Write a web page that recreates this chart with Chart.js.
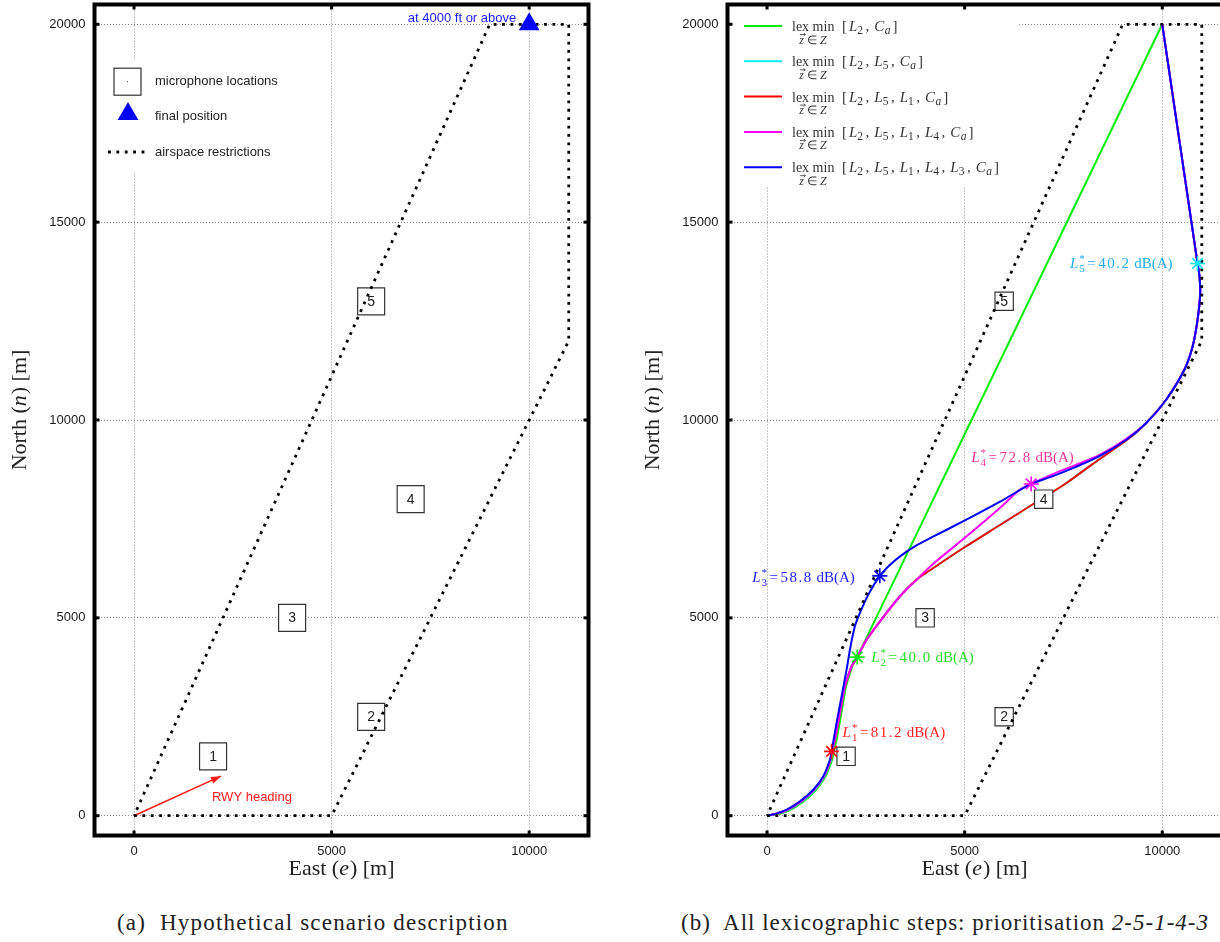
<!DOCTYPE html>
<html>
<head>
<meta charset="utf-8">
<title>Scenario and lexicographic steps</title>
<script src="https://cdn.jsdelivr.net/npm/chart.js@4.4.1/dist/chart.umd.min.js"></script>
<style>
  html, body { margin: 0; padding: 0; background: #fff; overflow: hidden; }
  body { position: relative; width: 1220px; height: 942px; }
  canvas { position: absolute; top: 0; }
  #chartA { left: 0; }
  #chartB { left: 633px; }
  .cap { position: absolute; top: 909px; line-height: 28px; font-family: "Liberation Serif", serif; font-size: 23px; color: #222; white-space: nowrap; }
  .cap i { font-style: italic; }
</style>
</head>
<body>
<canvas id="chartA" width="610" height="900"></canvas>
<canvas id="chartB" width="614" height="900"></canvas>
<div class="cap" style="left:117px; letter-spacing:1.2px">(a)&nbsp; Hypothetical scenario description</div>
<div class="cap" style="left:681px; letter-spacing:1px">(b)&nbsp; All lexicographic steps: prioritisation <i>2-5-1-4-3</i></div>
<script>
const SERIF = '"Liberation Serif", "Times New Roman", serif';
const SANS = '"Liberation Sans", Arial, sans-serif';

// axes, metres
const xTicks = [0, 5000, 10000];
const yTicks = [0, 5000, 10000, 15000, 20000];

// airspace restriction polygon
const airE = [0, 5000, 11000, 11000, 9000, 0];
const airN = [0, 0, 12000, 20000, 20000, 0];

// microphone locations
const micE = [2000, 6000, 4000, 7000, 6000];
const micN = [1500, 2500, 5000, 8000, 13000];
const micNames = ["1", "2", "3", "4", "5"];

// panel (a): final position + runway heading
const finalE = [10000];
const finalN = [20000];
const rwyE = [0, 2200];
const rwyN = [0, 1000];
const legendA = ["microphone locations", "final position", "airspace restrictions"];

// panel (b): trajectories of the lexicographic steps
const greenE = [0, 280, 540, 890, 1230, 1470, 1640, 1690, 1760, 1880, 2000, 2150, 2281, 10000];
const greenN = [0, 45, 125, 335, 640, 985, 1400, 1626, 1919, 2593, 3266, 3760, 4008, 20000];

const cyanE = [0, 270, 520, 870, 1210, 1450, 1615, 1650, 1717, 1843, 1970, 2138, 2281, 2517, 2854, 3359, 3779, 4200, 4958, 5884, 6768, 7568, 8200, 8800, 9300, 9588, 10093, 10556, 10766, 10892, 10960, 10940, 10892, 10000];
const cyanN = [0, 50, 135, 345, 645, 990, 1410, 1626, 1919, 2593, 3266, 3771, 4008, 4444, 4907, 5539, 5960, 6254, 6759, 7340, 7896, 8401, 8860, 9280, 9650, 9916, 10505, 11263, 11852, 12525, 13200, 13650, 13956, 20000];

const redE = [0, 260, 500, 850, 1190, 1435, 1605, 1633, 1717, 1843, 1970, 2138, 2281, 2517, 2854, 3359, 3779, 4200, 4958, 5884, 6768, 7568, 8200, 8800, 9300, 9588, 10093, 10556, 10766, 10892, 10960, 10940, 10892, 10000];
const redN = [0, 55, 140, 355, 655, 995, 1415, 1626, 1919, 2593, 3266, 3771, 4008, 4444, 4907, 5539, 5960, 6254, 6759, 7340, 7896, 8401, 8860, 9280, 9650, 9916, 10505, 11263, 11852, 12525, 13200, 13650, 13956, 20000];

const magentaE = [0, 260, 500, 850, 1190, 1435, 1605, 1633, 1717, 1843, 1970, 2138, 2281, 2517, 2854, 3359, 3779, 4200, 5042, 5884, 6389, 6684, 7200, 7800, 8400, 9083, 9588, 10093, 10556, 10766, 10892, 10960, 10940, 10892, 10000];
const magentaN = [0, 55, 140, 355, 655, 995, 1415, 1626, 1919, 2593, 3266, 3771, 4008, 4444, 4907, 5539, 5960, 6360, 7054, 7770, 8232, 8384, 8620, 8860, 9110, 9520, 9916, 10505, 11263, 11852, 12525, 13200, 13650, 13956, 20000];

const blueE = [0, 250, 497, 833, 1170, 1422, 1591, 1633, 1759, 1886, 2012, 2113, 2222, 2348, 2559, 2854, 3100, 3400, 3750, 4200, 5042, 5884, 6684, 7200, 7800, 8400, 9083, 9588, 10093, 10556, 10766, 10892, 10960, 10940, 10892, 10000];
const blueN = [0, 60, 152, 362, 657, 993, 1414, 1626, 2340, 3013, 3687, 4276, 4781, 5118, 5581, 6061, 6330, 6580, 6810, 7050, 7480, 7930, 8384, 8570, 8810, 9080, 9495, 9916, 10505, 11263, 11852, 12525, 13200, 13650, 13956, 20000];

// optimum noise level per microphone
const starE = [1633, 2281, 2854, 6684, 10892];
const starN = [1626, 4008, 6061, 8384, 13956];
const starMic = ["1", "2", "3", "4", "5"];
const starDb = ["81.2", "40.0", "58.8", "72.8", "40.2"];

// priority lists of each step
const steps = [["2"], ["2", "5"], ["2", "5", "1"], ["2", "5", "1", "4"], ["2", "5", "1", "4", "3"]];
const stepColors = ["#00ee00", "#00eeee", "#ff0000", "#ff00ff", "#0000ff"];

function pts(es, ns) { return es.map((e, i) => ({ x: e, y: ns[i] })); }

function track(es, ns, color, order) {
  return { data: pts(es, ns), showLine: true, borderColor: color, backgroundColor: color,
    borderWidth: 2, pointRadius: 0, tension: 0.3, order: order };
}
function airspace(order) {
  return { data: pts(airE, airN), showLine: true, borderColor: "#000", borderWidth: 2.8,
    borderDash: [2.8, 5.6], pointRadius: 0, tension: 0, order: order };
}
function mics(side, order) {
  return { data: pts(micE, micN), showLine: false, pointStyle: "rect", pointRadius: side / Math.SQRT2,
    backgroundColor: "#fff", borderColor: "#333", borderWidth: 1.2, order: order };
}

function drawRich(ctx, x, y, parts, align) {
  let w = 0;
  const ws = parts.map(p => {
    ctx.font = p.f;
    const pw = ctx.measureText(p.t).width + (p.g || 0);
    if (!p.stay) w += pw;
    return pw;
  });
  let cx = align === "center" ? x - w / 2 : align === "right" ? x - w : x;
  const x0 = cx;
  ctx.textAlign = "left";
  ctx.textBaseline = "alphabetic";
  parts.forEach((p, i) => {
    ctx.font = p.f;
    ctx.fillText(p.t, cx, y + (p.dy || 0));
    if (!p.stay) cx += ws[i];
  });
  return x0;
}

function scales(xMax) {
  const tickFont = { family: SANS, size: 13 };
  return {
    x: { type: "linear", min: -1000, max: xMax,
      grid: { color: "#8c8c8c", lineWidth: 1, drawTicks: false },
      border: { display: false, dash: [1, 2] },
      afterBuildTicks: s => { s.ticks = xTicks.map(v => ({ value: v })); },
      afterFit: s => { s.height = 40; s.paddingLeft = 0; s.paddingRight = 0; },
      ticks: { padding: 8, font: tickFont, color: "#1a1a1a", autoSkip: false, maxRotation: 0, callback: v => String(v) } },
    y: { type: "linear", min: -500, max: 20500,
      grid: { color: "#8c8c8c", lineWidth: 1, drawTicks: false },
      border: { display: false, dash: [1, 2] },
      afterBuildTicks: s => { s.ticks = yTicks.map(v => ({ value: v })); },
      afterFit: s => { s.width = 94.5; s.paddingTop = 0; s.paddingBottom = 0; },
      ticks: { padding: 9, font: tickFont, color: "#1a1a1a", autoSkip: false, callback: v => String(v) } }
  };
}

function baseOptions(xMax) {
  return {
    responsive: false, animation: false, devicePixelRatio: 1, events: [],
    layout: { autoPadding: false, padding: { left: 0, top: 4.5, right: 21.5, bottom: 24.5 } },
    plugins: { legend: { display: false }, tooltip: { enabled: false } },
    scales: scales(xMax)
  };
}

// thick frame, small tick nubs, axis titles
const framePlugin = {
  id: "frame",
  afterDraw(chart) {
    const ctx = chart.ctx, a = chart.chartArea;
    const sx = chart.scales.x, sy = chart.scales.y;
    ctx.save();
    ctx.fillStyle = "#000";
    sx.ticks.forEach(t => {
      const p = sx.getPixelForValue(t.value);
      ctx.fillRect(p - 1.5, a.top, 3, 5);
      ctx.fillRect(p - 1.5, a.bottom - 5, 3, 5);
    });
    sy.ticks.forEach(t => {
      const p = sy.getPixelForValue(t.value);
      ctx.fillRect(a.left, p - 1.5, 5, 3);
      ctx.fillRect(a.right - 5, p - 1.5, 5, 3);
    });
    ctx.lineWidth = 4;
    ctx.strokeStyle = "#000";
    ctx.strokeRect(a.left, a.top, a.right - a.left, a.bottom - a.top);

    ctx.fillStyle = "#222";
    const f = "22px " + SERIF, fi = "italic 22px " + SERIF;
    const cx = sx.getPixelForValue(5250);
    drawRich(ctx, cx, 875, [{ t: "East (", f: f }, { t: "e", f: fi, g: 1 }, { t: ") [m]", f: f }], "center");
    ctx.translate(19, 410);
    ctx.rotate(-Math.PI / 2);
    drawRich(ctx, 0, 7, [{ t: "North (", f: f }, { t: "n", f: fi, g: 1 }, { t: ") [m]", f: f }], "center");
    ctx.restore();
  }
};

function boxNumbers(chart, idx) {
  const ctx = chart.ctx;
  ctx.fillStyle = "#222";
  ctx.font = "14px " + SANS;
  ctx.textAlign = "center";
  ctx.textBaseline = "middle";
  chart.getDatasetMeta(idx).data.forEach((p, i) => ctx.fillText(micNames[i], p.x, p.y + 0.5));
}

function tri(ctx, x, y, r) {
  ctx.beginPath();
  for (let k = 0; k < 3; k++) {
    const ang = -Math.PI / 2 + k * 2 * Math.PI / 3;
    const px = x + r * Math.cos(ang), py = y + r * Math.sin(ang);
    if (k === 0) ctx.moveTo(px, py); else ctx.lineTo(px, py);
  }
  ctx.closePath();
  ctx.fill();
}

const panelA = {
  id: "panelA",
  afterDatasetsDraw(chart) {
    const ctx = chart.ctx, a = chart.chartArea;
    ctx.save();
    boxNumbers(chart, 2);

    // runway heading arrow head
    const m = chart.getDatasetMeta(3);
    const p0 = m.data[0], p1 = m.data[1];
    const ang = Math.atan2(p1.y - p0.y, p1.x - p0.x);
    const c = Math.cos(ang), s = Math.sin(ang);
    ctx.fillStyle = "#ff1a1a";
    ctx.beginPath();
    ctx.moveTo(p1.x, p1.y);
    ctx.lineTo(p1.x - 10 * c + 3.5 * s, p1.y - 10 * s - 3.5 * c);
    ctx.lineTo(p1.x - 10 * c - 3.5 * s, p1.y - 10 * s + 3.5 * c);
    ctx.closePath();
    ctx.fill();
    ctx.font = "13px " + SANS;
    ctx.textAlign = "left";
    ctx.textBaseline = "middle";
    ctx.fillText("RWY heading", p1.x - 9, p1.y + 21);

    const fp = chart.getDatasetMeta(0).data[0];
    ctx.fillStyle = "#1a1aff";
    ctx.textAlign = "right";
    ctx.fillText("at 4000 ft or above", fp.x - 13, fp.y - 6);

    // legend
    const L = a.left, T = a.top;
    ctx.fillStyle = "#fff";
    ctx.fillRect(L + 5, T + 55, 190, 113);
    ctx.strokeStyle = "#333";
    ctx.lineWidth = 1.2;
    ctx.strokeRect(L + 19.5, T + 63.7, 27, 27);
    ctx.fillStyle = "#333";
    ctx.fillRect(L + 32.5, T + 76.7, 1, 1);
    ctx.fillStyle = "#0000ff";
    tri(ctx, L + 33.5, T + 109.5, 12);
    ctx.strokeStyle = "#000";
    ctx.lineWidth = 2.8;
    ctx.setLineDash([2.8, 5.6]);
    ctx.beginPath();
    ctx.moveTo(L + 13.5, T + 147.5);
    ctx.lineTo(L + 51, T + 147.5);
    ctx.stroke();
    ctx.setLineDash([]);
    ctx.fillStyle = "#222";
    ctx.font = "13px " + SANS;
    ctx.textAlign = "left";
    ctx.textBaseline = "middle";
    [76.5, 111.5, 147.5].forEach((dy, i) => ctx.fillText(legendA[i], L + 60.5, T + dy));
    ctx.restore();
  }
};

const labelColors = ["#ff2020", "#22dd22", "#2020ff", "#e8369c", "#1fadea"];
const labelOffsets = [[11, -19, "left"], [14, 0, "left"], [-25, 1, "right"], [-60, -27, "left"], [-25, 0, "right"]];

const panelB = {
  id: "panelB",
  afterDatasetsDraw(chart) {
    const ctx = chart.ctx, a = chart.chartArea;
    ctx.save();
    boxNumbers(chart, 2);

    // L_k^* labels next to the optima
    const fi = "italic 15px " + SERIF, fn = "15px " + SERIF, fs = "11px " + SERIF;
    chart.getDatasetMeta(0).data.forEach((p, i) => {
      const o = labelOffsets[i];
      const parts = [{ t: "L", f: fi, g: 1 }, { t: "*", f: fs, dy: -6, stay: true }, { t: starMic[i], f: fs, dy: 4, g: 2.5 }, { t: "=", f: fn, g: 2.5 }];
      starDb[i].split("").forEach(ch => parts.push({ t: ch, f: fn, g: 1.5 }));
      parts.push({ t: " dB(A)", f: fn });
      ctx.fillStyle = labelColors[i];
      drawRich(ctx, p.x + o[0], p.y + o[1] + 5, parts, o[2]);
    });

    // legend
    const L = a.left, T = a.top;
    ctx.fillStyle = "#fff";
    ctx.fillRect(L + 4, T + 3, 287, 178);
    const fm = "15px " + SERIF, fmi = "italic 15px " + SERIF, fsub = "11.5px " + SERIF, fsubi = "italic 11.5px " + SERIF;
    steps.forEach((st, i) => {
      const y = T + 21.5 + i * 35.3;
      ctx.strokeStyle = stepColors[i];
      ctx.lineWidth = 2;
      ctx.beginPath();
      ctx.moveTo(L + 16.5, y);
      ctx.lineTo(L + 54.5, y);
      ctx.stroke();
      ctx.fillStyle = "#333";
      drawRich(ctx, L + 64.5, y + 5, [{ t: "lex min", f: "14px " + SERIF }], "left");
      const zx = drawRich(ctx, L + 85.5, y + 17.5, [{ t: "z", f: "italic 12px " + SERIF, g: 3 }, { t: "\u2208", f: "12px " + SERIF, g: 3 }, { t: "Z", f: "italic 12px " + SERIF }], "center");
      ctx.strokeStyle = "#333";
      ctx.lineWidth = 0.8;
      ctx.beginPath();
      ctx.moveTo(zx + 0.5, y + 8.5);
      ctx.lineTo(zx + 6, y + 8.5);
      ctx.moveTo(zx + 4.5, y + 7);
      ctx.lineTo(zx + 6, y + 8.5);
      ctx.lineTo(zx + 4.5, y + 10);
      ctx.stroke();
      const parts = [{ t: "[", f: fm, g: 2 }];
      st.forEach(k => parts.push({ t: "L", f: fmi }, { t: k, f: fsub, dy: 3, g: 2.5 }, { t: ",", f: fm, g: 5 }));
      parts.push({ t: "C", f: fmi, g: 0.5 }, { t: "a", f: fsubi, dy: 3, g: 2 }, { t: "]", f: fm });
      drawRich(ctx, L + 114.5, y + 5, parts, "left");
    });
    ctx.restore();
  }
};

new Chart(document.getElementById("chartA"), {
  type: "scatter",
  data: {
    datasets: [
      { data: pts(finalE, finalN), pointStyle: "triangle", pointRadius: 12, backgroundColor: "#0000ff", borderColor: "#0000ff", borderWidth: 0, order: 0 },
      airspace(1),
      mics(27, 2),
      { data: pts(rwyE, rwyN), showLine: true, borderColor: "#ff1a1a", borderWidth: 1.6, pointRadius: 0, order: 3 }
    ]
  },
  options: baseOptions(11500),
  plugins: [panelA, framePlugin]
});

// panel (b) runs a little past the page edge, so its right frame is cut off
new Chart(document.getElementById("chartB"), {
  type: "scatter",
  data: {
    datasets: [
      { data: pts(starE, starN), pointStyle: "star", pointRadius: 7.5, borderWidth: 1.6,
        borderColor: ["#ff0000", "#00e600", "#0000ff", "#ff00ff", "#00e5ff"],
        backgroundColor: ["#ff0000", "#00e600", "#0000ff", "#ff00ff", "#00e5ff"], order: 0 },
      airspace(1),
      mics(18.3, 2),
      track(blueE, blueN, stepColors[4], 3),
      track(magentaE, magentaN, stepColors[3], 4),
      track(redE, redN, stepColors[2], 5),
      track(cyanE, cyanN, stepColors[1], 6),
      track(greenE, greenN, stepColors[0], 7)
    ]
  },
  options: baseOptions(11600),
  plugins: [panelB, framePlugin]
});
</script>
</body>
</html>
